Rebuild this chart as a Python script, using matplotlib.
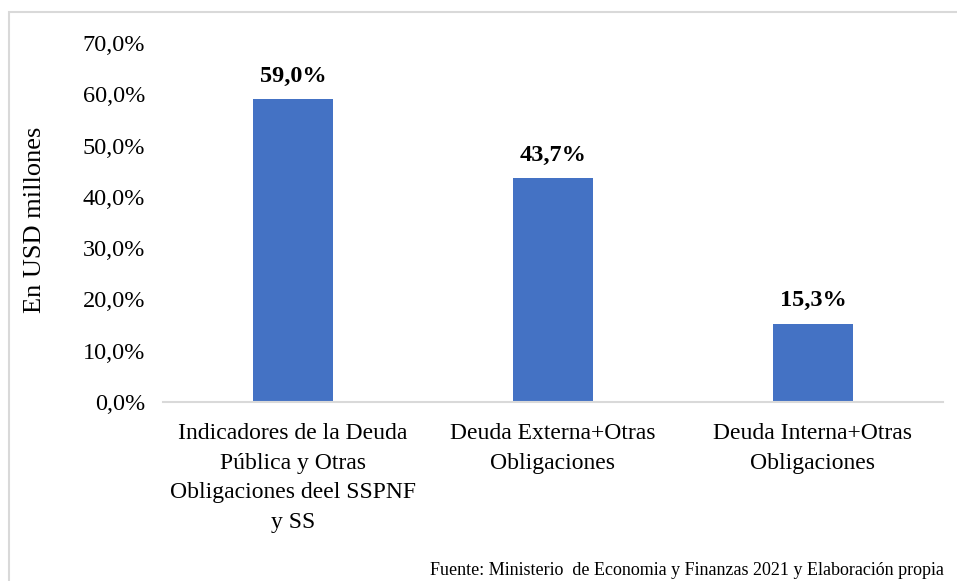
import matplotlib.pyplot as plt
from matplotlib.patches import Rectangle

# Data
categories = ["Indicadores de la Deuda\nPública y Otras\nObligaciones deel SSPNF\ny SS",
              "Deuda Externa+Otras\nObligaciones",
              "Deuda Interna+Otras\nObligaciones"]
values = [59.0, 43.7, 15.3]
yticks = [0, 10, 20, 30, 40, 50, 60, 70]

serif = ['Liberation Serif', 'DejaVu Serif']
plt.rcParams['font.family'] = serif

fig = plt.figure(figsize=(9.57, 5.81), dpi=100)
ax = fig.add_axes([0.1703, 0.3081, 0.815, 0.6179])

# outer frame like the Excel chart area
fig.patches.append(Rectangle((0.0094, -0.1), 1.2, 1.079, transform=fig.transFigure,
                             fill=False, edgecolor="#d9d9d9", linewidth=1.5))

x = range(len(categories))
ax.bar(x, values, width=0.31, color="#4472C4")

for i, v in enumerate(values):
    ax.text(i, v + 2.4, f"{v:.1f}%".replace(".", ","), ha="center", va="bottom",
            fontsize=17.5, fontweight="bold", color="black", family=serif)

ax.set_xlim(-0.5, 2.5)
ax.set_ylim(0, 70)
ax.set_yticks(yticks)
ax.set_yticklabels([f"{t:.1f}%".replace(".", ",") for t in yticks], fontsize=17.5, family=serif)
ax.set_xticks(list(x))
ax.set_xticklabels(categories, fontsize=17, linespacing=1.55, family=serif)
ax.tick_params(length=0)
ax.tick_params(axis="y", pad=13)
ax.tick_params(axis="x", pad=15)

for s in ["top", "right", "left"]:
    ax.spines[s].set_visible(False)
ax.spines["bottom"].set_color("#d9d9d9")
ax.spines["bottom"].set_linewidth(1.5)

fig.text(0.037, 0.622, "En USD millones", rotation=90, ha="center", va="center",
         fontsize=19, family=serif)
fig.text(0.449, 0.003, "Fuente: Ministerio  de Economia y Finanzas 2021 y Elaboración propia",
         ha="left", va="bottom", fontsize=13, family=serif)

fig.savefig("out.png", dpi=100)
